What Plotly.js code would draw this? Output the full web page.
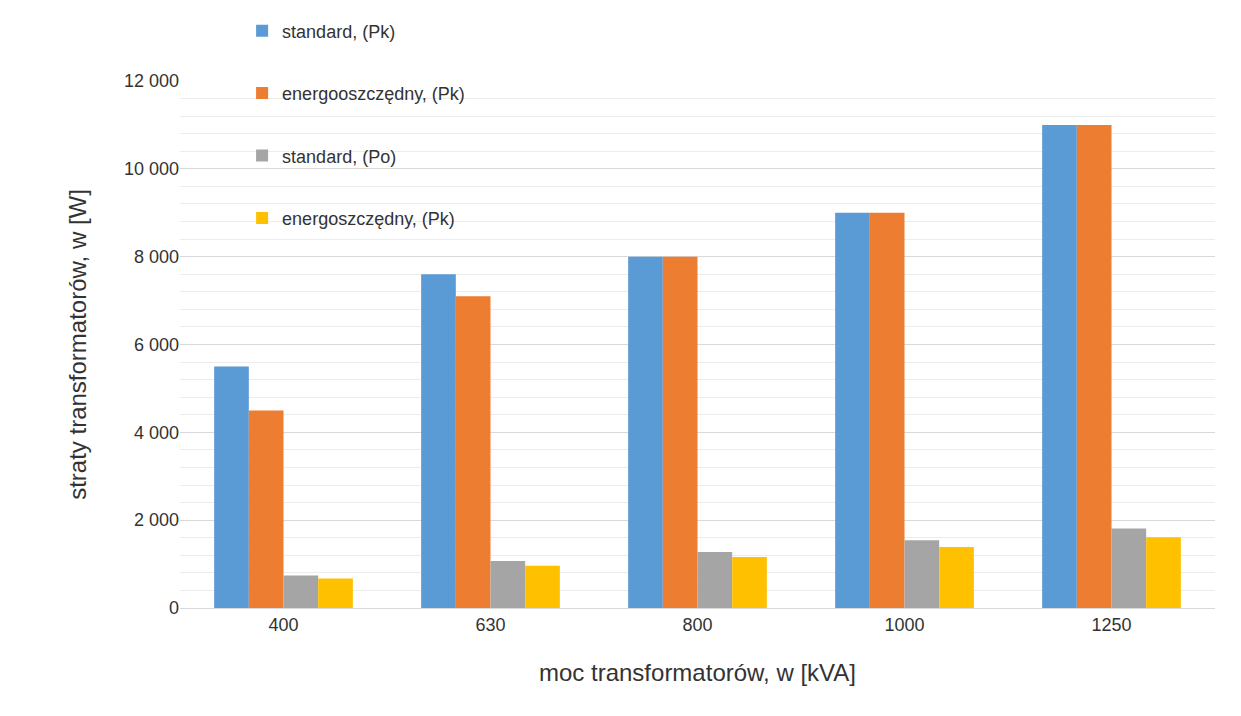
<!DOCTYPE html>
<html><head><meta charset="utf-8">
<script src="https://cdn.plot.ly/plotly-3.0.1.min.js"></script>
<style>body{margin:0;background:#fff}</style></head>
<body><div id="wykres" style="width:1241px;height:716px"></div>
<script>
var moce = ['400', '630', '800', '1000', '1250'];
var standardPk = [5500, 7600, 8000, 9000, 11000];
var energoPk = [4500, 7100, 8000, 9000, 11000];
var standardPo = [740, 1070, 1275, 1540, 1810];
var energoPo = [670, 960, 1160, 1390, 1610];

var nazwy = ['standard, (Pk)', 'energooszczędny, (Pk)', 'standard, (Po)', 'energoszczędny, (Pk)'];
var kolory = ['#5b9bd5', '#ed7d31', '#a5a5a5', '#ffc000'];
var serie = [standardPk, energoPk, standardPo, energoPo];

var dane = serie.map(function (s, i) {
    return {x: moce, y: s, type: 'bar', name: nazwy[i], legendgroup: 'g' + i,
        marker: {color: kolory[i]}};
});

var layout = {
    font: {family: 'Liberation Sans, Arial', color: '#333', size: 18},
    margin: {l: 180, r: 26, t: 72, b: 108},
    paper_bgcolor: '#fff', plot_bgcolor: '#fff',
    bargap: 0.33, bargroupgap: 0,
    separators: ', ',
    showlegend: true,
    legend: {x: 0.06, y: 1.13, xanchor: 'left', yanchor: 'top', tracegroupgap: 36,
        font: {size: 18}, bgcolor: 'rgba(0,0,0,0)'},
    xaxis: {type: 'category', showline: true, linecolor: '#d9d9d9', ticks: '',
        title: {text: 'moc transformatorów, w [kVA]', font: {size: 24}, standoff: 30}},
    yaxis: {range: [0, 12000], dtick: 2000, tickformat: ',d', gridcolor: '#d9d9d9',
        minor: {dtick: 400, showgrid: true, gridcolor: '#ececec'}, zeroline: false,
        title: {text: 'straty transformatorów, w [W]', font: {size: 24}, standoff: 30}}
};
Plotly.newPlot('wykres', dane, layout, {displayModeBar: false});
</script></body></html>
